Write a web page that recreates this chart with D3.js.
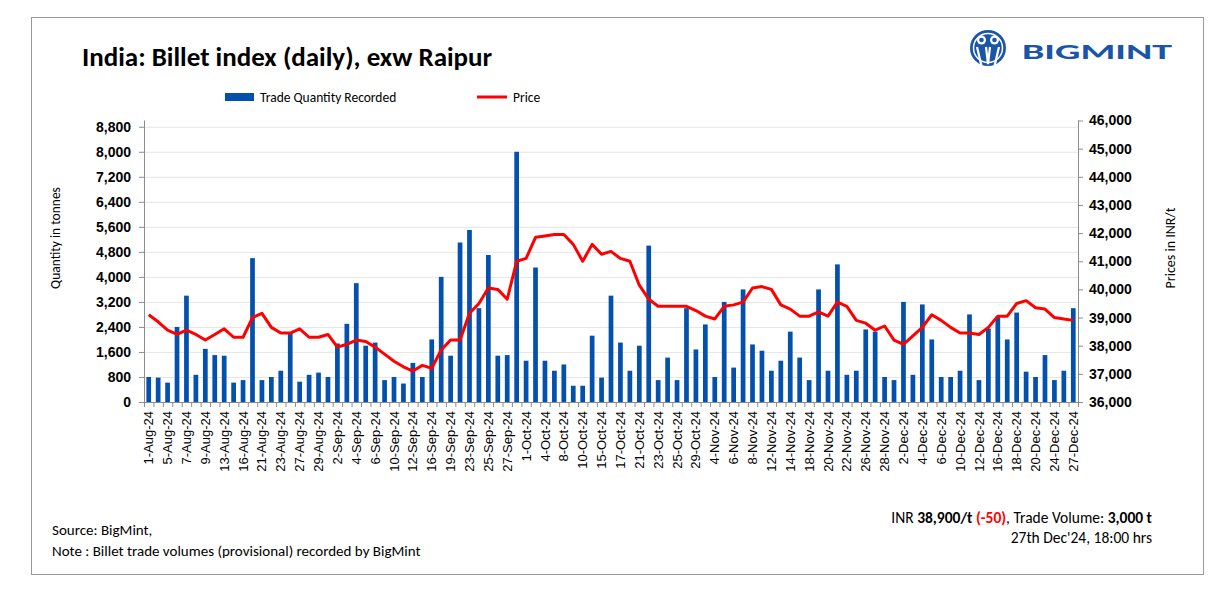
<!DOCTYPE html>
<html>
<head>
<meta charset="utf-8">
<script src="https://cdn.jsdelivr.net/npm/d3@7"></script>
<style>
  body { margin: 0; background: #fff; }
  svg { font-family: Carlito, Lato, sans-serif; }
  .axis path, .axis line { stroke: #8c8c8c; }
  .axis text { font-size: 14px; font-weight: bold; fill: #000; }
  .x-axis text { font-size: 13px; font-weight: normal; }
</style>
</head>
<body>
<svg width="1227" height="597"></svg>
<script>
'use strict';

const dates = [
  "1-Aug-24", "2-Aug-24", "5-Aug-24", "6-Aug-24", "7-Aug-24", "8-Aug-24", "9-Aug-24", "12-Aug-24", "13-Aug-24", "14-Aug-24",
  "16-Aug-24", "20-Aug-24", "21-Aug-24", "22-Aug-24", "23-Aug-24", "26-Aug-24", "27-Aug-24", "28-Aug-24", "29-Aug-24", "30-Aug-24",
  "2-Sep-24", "3-Sep-24", "4-Sep-24", "5-Sep-24", "6-Sep-24", "9-Sep-24", "10-Sep-24", "11-Sep-24", "12-Sep-24", "13-Sep-24",
  "16-Sep-24", "18-Sep-24", "19-Sep-24", "20-Sep-24", "23-Sep-24", "24-Sep-24", "25-Sep-24", "26-Sep-24", "27-Sep-24", "30-Sep-24",
  "1-Oct-24", "3-Oct-24", "4-Oct-24", "7-Oct-24", "8-Oct-24", "9-Oct-24", "10-Oct-24", "14-Oct-24", "15-Oct-24", "16-Oct-24",
  "17-Oct-24", "18-Oct-24", "21-Oct-24", "22-Oct-24", "23-Oct-24", "24-Oct-24", "25-Oct-24", "28-Oct-24", "29-Oct-24", "30-Oct-24",
  "4-Nov-24", "5-Nov-24", "6-Nov-24", "7-Nov-24", "8-Nov-24", "11-Nov-24", "12-Nov-24", "13-Nov-24", "14-Nov-24", "15-Nov-24",
  "18-Nov-24", "19-Nov-24", "20-Nov-24", "21-Nov-24", "22-Nov-24", "25-Nov-24", "26-Nov-24", "27-Nov-24", "28-Nov-24", "29-Nov-24",
  "2-Dec-24", "3-Dec-24", "4-Dec-24", "5-Dec-24", "6-Dec-24", "9-Dec-24", "10-Dec-24", "11-Dec-24", "12-Dec-24", "13-Dec-24",
  "16-Dec-24", "17-Dec-24", "18-Dec-24", "19-Dec-24", "20-Dec-24", "23-Dec-24", "24-Dec-24", "26-Dec-24", "27-Dec-24"
];

// tonnes
const quantity = [
  800, 780, 620, 2400, 3400, 870, 1700, 1500, 1480, 620,
  700, 4600, 700, 800, 1000, 2200, 650, 870, 940, 800,
  1870, 2500, 3800, 1800, 1900, 700, 800, 590, 1250, 800,
  2000, 4000, 1480, 5100, 5500, 3000, 4700, 1480, 1500, 8000,
  1320, 4300, 1320, 1000, 1200, 520, 520, 2120, 780, 3400,
  1900, 1000, 1800, 5000, 700, 1420, 700, 3000, 1680, 2480,
  800, 3200, 1100, 3600, 1840, 1640, 1000, 1320, 2250, 1420,
  700, 3600, 1000, 4400, 870, 1000, 2320, 2250, 800, 700,
  3200, 870, 3120, 2000, 800, 800, 1000, 2800, 700, 2350,
  2730, 2000, 2860, 970, 800, 1500, 700, 1000, 3000
];

// INR/t
const price = [
  39100, 38850, 38550, 38400, 38550, 38400, 38200, 38400, 38600, 38300,
  38300, 39000, 39150, 38650, 38450, 38450, 38600, 38300, 38300, 38400,
  37950, 38050, 38200, 38150, 37950, 37700, 37450, 37250, 37100, 37300,
  37200, 37850, 38200, 38200, 39150, 39500, 40050, 40000, 39650, 41000,
  41100, 41850, 41900, 41950, 41950, 41600, 41000, 41600, 41250, 41350,
  41100, 41000, 40150, 39650, 39400, 39400, 39400, 39400, 39250, 39050,
  38950, 39400, 39450, 39550, 40050, 40100, 40000, 39450, 39300, 39050,
  39050, 39200, 39050, 39550, 39400, 38900, 38800, 38550, 38700, 38200,
  38050, 38350, 38650, 39100, 38900, 38650, 38450, 38450, 38400, 38650,
  39050, 39050, 39500, 39600, 39350, 39300, 39000, 38950, 38900
];

const qtyTicks = [0, 800, 1600, 2400, 3200, 4000, 4800, 5600, 6400, 7200, 8000, 8800];
const priceTicks = [36000, 37000, 38000, 39000, 40000, 41000, 42000, 43000, 44000, 45000, 46000];

const svg = d3.select("svg");
const plot = {left: 144, right: 1078, top: 120.5, bottom: 402};
const barColor = "#0451ad";
const lineColor = "#ff0000";

// frame
svg.append("rect")
    .attr("x", 31.5).attr("y", 17.5)
    .attr("width", 1172).attr("height", 557)
    .attr("fill", "#fff")
    .attr("stroke", "#9a9a9a");

const x = d3.scaleBand()
    .domain(dates)
    .range([plot.left, plot.right])
    .paddingInner(0.5)
    .paddingOuter(0.25);
const yQty = d3.scaleLinear().domain([0, 9000]).range([plot.bottom, plot.top]);
const yPrice = d3.scaleLinear().domain([36000, 46000]).range([plot.bottom, plot.top]);

// gridlines
svg.append("g")
    .selectAll("line")
    .data(qtyTicks.slice(1))
    .enter()
    .append("line")
    .attr("x1", plot.left).attr("x2", plot.right)
    .attr("y1", d => yQty(d) + 0.5).attr("y2", d => yQty(d) + 0.5)
    .attr("stroke", "#e6e6e6");

// bars
svg.append("g")
    .selectAll("rect")
    .data(quantity)
    .enter()
    .append("rect")
    .attr("x", (d, i) => x(dates[i]))
    .attr("y", d => yQty(d))
    .attr("width", x.bandwidth())
    .attr("height", d => plot.bottom - yQty(d))
    .attr("fill", barColor);

// price line
const line = d3.line()
    .x((d, i) => x(dates[i]) + x.bandwidth() / 2)
    .y(d => yPrice(d));

svg.append("path")
    .datum(price)
    .attr("d", line)
    .attr("fill", "none")
    .attr("stroke", lineColor)
    .attr("stroke-width", 3)
    .attr("stroke-linejoin", "round");

// left axis
svg.append("g")
    .attr("class", "axis")
    .attr("transform", `translate(${plot.left},0)`)
    .call(d3.axisLeft(yQty).tickValues(qtyTicks).tickFormat(d3.format(",")).tickSize(5).tickPadding(8))
    .call(g => g.select(".domain").attr("d", `M0.5,${plot.top}V${plot.bottom}`));

// right axis
svg.append("g")
    .attr("class", "axis")
    .attr("transform", `translate(${plot.right},0)`)
    .call(d3.axisRight(yPrice).tickValues(priceTicks).tickFormat(d3.format(",")).tickSize(5).tickPadding(6))
    .call(g => g.select(".domain").attr("d", `M0.5,${plot.top}V${plot.bottom}`));

// bottom axis, labels on every other date
const xAxis = svg.append("g")
    .attr("class", "axis x-axis")
    .attr("transform", `translate(0,${plot.bottom})`)
    .call(d3.axisBottom(x).tickValues(dates.filter((d, i) => i % 2 === 0)).tickSize(0).tickPadding(0));
xAxis.select(".domain").attr("d", `M${plot.left},0.5H${plot.right}`);
xAxis.selectAll("text")
    .attr("transform", "rotate(-90)")
    .attr("text-anchor", "end")
    .attr("x", -9)
    .attr("y", 0)
    .attr("dy", "0.35em");

// category boundary ticks
const step = x.step();
xAxis.append("g")
    .selectAll("line")
    .data(dates.concat(["end"]))
    .enter()
    .append("line")
    .attr("x1", (d, i) => plot.left + i * step + 0.5)
    .attr("x2", (d, i) => plot.left + i * step + 0.5)
    .attr("y1", 0).attr("y2", 5);

// axis titles
svg.append("text")
    .attr("transform", "translate(60,238) rotate(-90)")
    .attr("text-anchor", "middle")
    .attr("font-size", 13.5)
    .text("Quantity in tonnes");
svg.append("text")
    .attr("transform", "translate(1175,248) rotate(-90)")
    .attr("text-anchor", "middle")
    .attr("font-size", 14)
    .text("Prices in INR/t");

// title
svg.append("text")
    .attr("x", 82).attr("y", 66)
    .attr("font-size", 27)
    .attr("font-weight", "bold")
    .text("India: Billet index (daily), exw Raipur");

// legend
svg.append("rect")
    .attr("x", 225).attr("y", 93)
    .attr("width", 29).attr("height", 8)
    .attr("fill", barColor);
svg.append("text")
    .attr("x", 260).attr("y", 102)
    .attr("font-size", 13.5)
    .text("Trade Quantity Recorded");
svg.append("line")
    .attr("x1", 477).attr("x2", 507)
    .attr("y1", 97).attr("y2", 97)
    .attr("stroke", lineColor)
    .attr("stroke-width", 3);
svg.append("text")
    .attr("x", 513).attr("y", 102)
    .attr("font-size", 13.5)
    .text("Price");

// logo
const logoBlue = "#1a55a8";
const logo = svg.append("g");
logo.append("circle").attr("cx", 988).attr("cy", 48).attr("r", 18).attr("fill", logoBlue);
logo.append("circle").attr("cx", 988).attr("cy", 48).attr("r", 14.5).attr("fill", "none").attr("stroke", "#fff").attr("stroke-width", 1.5);
logo.append("circle").attr("cx", 981.5).attr("cy", 40).attr("r", 4.5).attr("fill", "#fff");
logo.append("circle").attr("cx", 994.5).attr("cy", 40).attr("r", 4.5).attr("fill", "#fff");
logo.append("circle").attr("cx", 981.5).attr("cy", 40).attr("r", 2.3).attr("fill", logoBlue);
logo.append("circle").attr("cx", 994.5).attr("cy", 40).attr("r", 2.3).attr("fill", logoBlue);
logo.append("path")
    .attr("d", "M977,47 L981.5,66 M986,47 L988,64 L990,47 M999,47 L994.5,66")
    .attr("stroke", "#fff").attr("stroke-width", 2.2).attr("fill", "none");
logo.append("text")
    .attr("x", 1022).attr("y", 59)
    .attr("font-size", 22)
    .attr("font-weight", 900)
    .attr("textLength", 150)
    .attr("lengthAdjust", "spacingAndGlyphs")
    .attr("fill", logoBlue)
    .text("BIGMINT");

// footer
svg.append("text")
    .attr("x", 52).attr("y", 535)
    .attr("font-size", 15)
    .text("Source: BigMint,");
svg.append("text")
    .attr("x", 52).attr("y", 556)
    .attr("font-size", 15)
    .text("Note : Billet trade volumes (provisional) recorded by BigMint");

const summary = svg.append("text")
    .attr("x", 1152).attr("y", 523)
    .attr("text-anchor", "end")
    .attr("font-size", 15.5);
summary.append("tspan").text("INR ");
summary.append("tspan").attr("font-weight", "bold").text("38,900/t ");
summary.append("tspan").attr("font-weight", "bold").attr("fill", lineColor).text("(-50)");
summary.append("tspan").text(", Trade Volume: ");
summary.append("tspan").attr("font-weight", "bold").text("3,000 t");

svg.append("text")
    .attr("x", 1152).attr("y", 543)
    .attr("text-anchor", "end")
    .attr("font-size", 15.5)
    .text("27th Dec'24, 18:00 hrs");
</script>
</body>
</html>
